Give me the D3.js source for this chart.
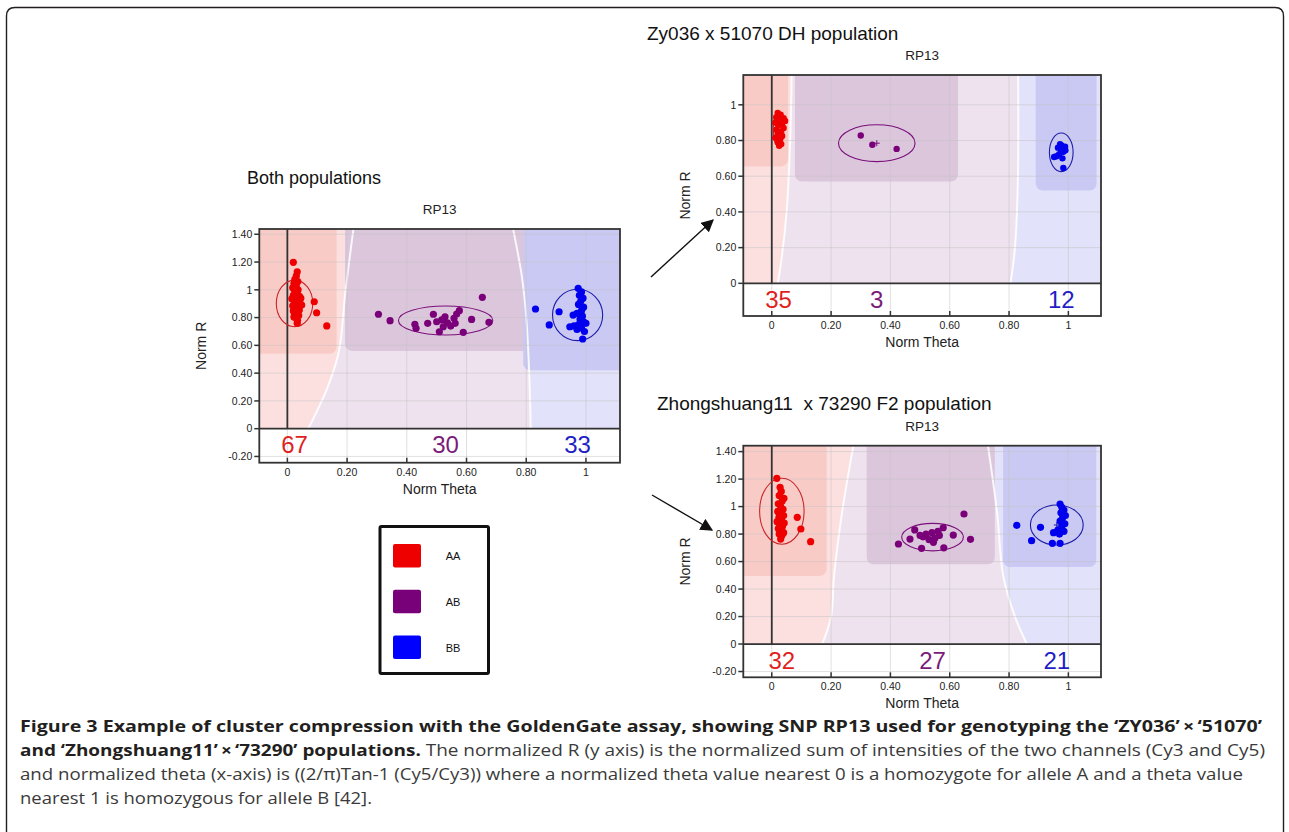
<!DOCTYPE html>
<html>
<head>
<meta charset="utf-8">
<script src="https://cdn.jsdelivr.net/npm/d3@7"></script>
<style>
  body { margin: 0; background: #fff; }
  text { font-family: "Liberation Sans", Arial, sans-serif; }
  .cap { font-family: "Open Sans", sans-serif; }
</style>
</head>
<body>
<svg id="fig"></svg>
<script>
// ---- data ----
var genotypes = ["AA", "AB", "BB"];

var xTicks = [0, 0.2, 0.4, 0.6, 0.8, 1];
var yTicksWide = [-0.2, 0, 0.2, 0.4, 0.6, 0.8, 1, 1.2, 1.4];
var yTicksDH = [0, 0.2, 0.4, 0.6, 0.8, 1];

// Both populations (theta, R)
var bothAA = [[0.020,1.198],[0.033,1.130],[0.030,1.100],[0.025,1.075],[0.035,1.060],[0.022,1.045],[0.030,1.030],
  [0.018,1.015],[0.036,1.000],[0.025,0.990],[0.032,0.975],[0.020,0.960],[0.040,0.955],[0.028,0.945],[0.015,0.935],
  [0.035,0.925],[0.024,0.915],[0.042,0.905],[0.030,0.895],[0.018,0.885],[0.036,0.875],[0.026,0.865],[0.040,0.855],
  [0.020,0.848],[0.032,0.838],[0.025,0.825],[0.038,0.815],[0.022,0.805],[0.030,0.795],[0.034,0.780],[0.033,0.760],
  [0.045,0.940],[0.048,0.890],[0.090,0.914],[0.098,0.835],[0.132,0.740]];
var bothAB = [[0.305,0.824],[0.344,0.778],[0.427,0.752],[0.431,0.723],[0.470,0.759],[0.489,0.824],[0.509,0.698],
  [0.517,0.783],[0.528,0.806],[0.536,0.763],[0.547,0.739],[0.558,0.795],[0.567,0.826],[0.576,0.850],[0.562,0.759],
  [0.589,0.694],[0.617,0.787],[0.653,0.946],[0.675,0.766],[0.500,0.770],[0.522,0.734]];
var bothBB = [[0.831,0.862],[0.877,0.747],[0.910,0.842],[0.974,1.011],[0.985,0.985],[0.978,0.960],[0.990,0.940],
  [0.982,0.915],[0.975,0.895],[0.992,0.875],[0.985,0.850],[0.970,0.830],[0.957,0.818],[0.988,0.810],[0.980,0.790],
  [0.992,0.770],[1.000,0.759],[0.975,0.750],[0.960,0.740],[0.946,0.734],[0.985,0.725],[0.970,0.715],[0.989,0.646],[0.995,0.700]];
var bothCounts = [67, 30, 33];
var bothEllipses = [[0.024,0.902,0.061,0.168],[0.530,0.779,0.158,0.104],[0.972,0.819,0.084,0.185]]; // cx, cy, rx, ry
var bothCores = [[-0.2,0.165,0.54],[0.193,0.813,0.56],[0.79,1.2,0.42]];   // theta from, theta to, R from
var bothEdgeA = [[0.225,1.5],[0.195,1.0],[0.172,0.55],[0.135,0.3],[0.07,0]];
var bothEdgeB = [[0.75,1.5],[0.785,1.1],[0.80,0.8],[0.81,0.4],[0.815,0]];

// Zy036 x 51070 DH population
var dhAA = [[0.020,0.955],[0.030,0.945],[0.015,0.930],[0.040,0.925],[0.025,0.915],[0.045,0.910],[0.012,0.900],
  [0.035,0.895],[0.022,0.885],[0.040,0.870],[0.015,0.860],[0.030,0.850],[0.020,0.835],[0.035,0.825],[0.012,0.815],
  [0.028,0.805],[0.020,0.790],[0.032,0.780],[0.025,0.770]];
var dhAB = [[0.300,0.828],[0.339,0.776],[0.421,0.753]];
var dhBB = [[0.977,0.773],[0.989,0.765],[0.972,0.780],[0.983,0.737],[0.969,0.724],[0.952,0.708],[0.960,0.712],
  [0.983,0.646],[0.975,0.750],[0.990,0.745],[0.965,0.760],[0.980,0.700]];
var dhCounts = [35, 3, 12];
var dhEllipses = [[0.023,0.864,0.018,0.098],[0.354,0.785,0.129,0.103],[0.976,0.734,0.040,0.108]];
var dhCores = [[-0.2,0.055,0.655],[0.078,0.628,0.57],[0.89,1.095,0.52]];
var dhEdgeA = [[0.068,1.3],[0.062,0.8],[0.05,0.4],[0.03,0.1],[0.02,0]];
var dhEdgeB = [[0.83,1.3],[0.83,0.6],[0.82,0.2],[0.805,0]];

// Zhongshuang11 x 73290 F2 population
var f2AA = [[0.017,1.206],[0.041,1.060],[0.086,0.922],[0.098,0.837],[0.131,0.745],[0.030,0.764],[0.028,1.140],
  [0.032,1.110],[0.025,1.080],[0.035,1.040],[0.022,1.020],[0.030,1.000],[0.038,0.980],[0.020,0.965],[0.028,0.950],
  [0.040,0.935],[0.024,0.920],[0.033,0.905],[0.018,0.890],[0.042,0.880],[0.027,0.870],[0.036,0.855],[0.022,0.840],
  [0.031,0.825],[0.040,0.810],[0.025,0.800],[0.034,0.790]];
var f2AB = [[0.427,0.728],[0.466,0.764],[0.482,0.830],[0.505,0.696],[0.510,0.780],[0.520,0.800],[0.530,0.760],
  [0.540,0.810],[0.550,0.770],[0.560,0.820],[0.565,0.790],[0.578,0.846],[0.580,0.700],[0.545,0.740],[0.500,0.790],
  [0.612,0.793],[0.648,0.946],[0.670,0.762]];
var f2BB = [[0.826,0.864],[0.876,0.752],[0.906,0.849],[0.972,1.019],[0.978,0.995],[0.985,0.975],[0.975,0.955],
  [0.990,0.935],[0.980,0.915],[0.972,0.895],[0.988,0.875],[0.978,0.855],[0.965,0.830],[0.950,0.810],[0.985,0.820],
  [0.970,0.800],[0.946,0.733],[0.972,0.733]];
var f2Counts = [32, 27, 21];
var f2Ellipses = [[0.034,0.966,0.075,0.240],[0.542,0.778,0.104,0.100],[0.961,0.866,0.089,0.146]];
var f2Cores = [[-0.2,0.185,0.495],[0.32,0.752,0.58],[0.78,1.094,0.56]];
var f2EdgeA = [[0.28,1.5],[0.24,1.0],[0.21,0.5],[0.2,0.2],[0.17,0]];
var f2EdgeB = [[0.725,1.5],[0.76,0.95],[0.78,0.5],[0.82,0.2],[0.86,0]];

var captionLines = [
  [[true, "Figure 3 Example of cluster compression with the GoldenGate assay, showing SNP RP13 used for genotyping the \u2018ZY036\u2019\u2009\u00d7\u2009\u201851070\u2019"]],
  [[true, "and \u2018Zhongshuang11\u2019\u2009\u00d7\u2009\u201873290\u2019 populations."], [false, " The normalized R (y axis) is the normalized sum of intensities of the two channels (Cy3 and Cy5)"]],
  [[false, "and normalized theta (x-axis) is ((2/\u03c0)Tan-1 (Cy5/Cy3)) where a normalized theta value nearest 0 is a homozygote for allele A and a theta value"]],
  [[false, "nearest 1 is homozygous for allele B [42]."]]
];

// ---- styles ----
var dotColor = { AA: "#ee0000", AB: "#7a007a", BB: "#0000ee" };
var ringColor = { AA: "#c8262a", AB: "#7a107a", BB: "#1c1ca8" };
var coreFill = { AA: "#f9cbc7", AB: "#dcc6dc", BB: "#c9c9f4" };
var softFill = { AA: "#fce0e0", AB: "#efe2ef", BB: "#e2e2fa" };

var W = 1289, H = 832;
var svg = d3.select("#fig").attr("width", W).attr("height", H);

// outer frame of the figure
svg.append("path")
  .attr("d", "M6.5,850 L6.5,16 Q6.5,7.5 15,7.5 L1275,7.5 Q1283.5,7.5 1283.5,16 L1283.5,850")
  .attr("fill", "none").attr("stroke", "#231f20").attr("stroke-width", 1.4);

var defs = svg.append("defs");
defs.append("marker").attr("id", "arr")
  .attr("viewBox", "0 0 10 10").attr("refX", 9).attr("refY", 5)
  .attr("markerWidth", 9).attr("markerHeight", 9).attr("orient", "auto")
  .append("path").attr("d", "M0,0 L10,5 L0,10 z").attr("fill", "#111");

var fmt = function(v) { return (v === 0 || v === 1) ? String(v) : v.toFixed(2); };

function drawPanel(id, box, xDom, yDom, yTicks, sets, counts, ellipses, cores, edgeA, edgeB, r) {
  var x = d3.scaleLinear().domain(xDom).range([box[0], box[1]]);
  var y = d3.scaleLinear().domain(yDom).range([box[3], box[2]]);
  var g = svg.append("g");

  defs.append("clipPath").attr("id", "clip" + id)
    .append("rect").attr("x", box[0]).attr("y", box[2])
    .attr("width", box[1] - box[0]).attr("height", box[3] - box[2]);
  var plot = g.append("g").attr("clip-path", "url(#clip" + id + ")");

  var xl = xDom[0] - 0.1, xr = xDom[1] + 0.1, yt = yDom[1] + 0.1;
  var curve = d3.line().x(function(d) { return x(d[0]); }).y(function(d) { return y(d[1]); })
    .curve(d3.curveCatmullRom);

  // soft zones split by the two boundary curves
  var edgeBUp = edgeB.slice().reverse();
  plot.append("path").attr("fill", softFill.AA)
    .attr("d", curve(edgeA) + "L" + x(xl) + "," + y(0) + "L" + x(xl) + "," + y(yt) + "L" + x(edgeA[0][0]) + "," + y(yt) + "Z");
  plot.append("path").attr("fill", softFill.AB)
    .attr("d", curve(edgeA) + "L" + x(edgeB[edgeB.length - 1][0]) + "," + y(0) + curve(edgeBUp).replace(/^M/, "L") + "Z");
  plot.append("path").attr("fill", softFill.BB)
    .attr("d", curve(edgeB) + "L" + x(xr) + "," + y(0) + "L" + x(xr) + "," + y(yt) + "Z");

  // cluster cores
  plot.selectAll(".core").data(cores).enter().append("rect")
    .attr("x", function(d) { return x(d[0]); })
    .attr("y", y(yt))
    .attr("width", function(d) { return x(d[1]) - x(d[0]); })
    .attr("height", function(d) { return y(d[2]) - y(yt); })
    .attr("rx", 7)
    .attr("fill", function(d, i) { return coreFill[genotypes[i]]; });

  // white boundary lines
  [edgeA, edgeB].forEach(function(e) {
    plot.append("path").attr("d", curve(e)).attr("fill", "none")
      .attr("stroke", "#fff").attr("stroke-width", 2).attr("opacity", 0.85);
  });

  // count strip under zero
  plot.append("rect").attr("x", box[0]).attr("y", y(0))
    .attr("width", box[1] - box[0]).attr("height", box[3] - y(0)).attr("fill", "#fff");

  // grid
  plot.selectAll(".gx").data(xTicks).enter().append("line")
    .attr("x1", function(d) { return x(d); }).attr("x2", function(d) { return x(d); })
    .attr("y1", box[2]).attr("y2", box[3])
    .attr("stroke", "#c4c4c4").attr("stroke-opacity", 0.5);
  plot.selectAll(".gy").data(yTicks).enter().append("line")
    .attr("y1", function(d) { return y(d); }).attr("y2", function(d) { return y(d); })
    .attr("x1", box[0]).attr("x2", box[1])
    .attr("stroke", "#c4c4c4").attr("stroke-opacity", 0.5);

  // zero axes
  plot.append("line").attr("x1", x(0)).attr("x2", x(0)).attr("y1", box[2]).attr("y2", y(0))
    .attr("stroke", "#333").attr("stroke-width", 1.8);
  plot.append("line").attr("x1", box[0]).attr("x2", box[1]).attr("y1", y(0)).attr("y2", y(0))
    .attr("stroke", "#333").attr("stroke-width", 1.8);

  // cluster ellipses
  plot.selectAll(".ell").data(ellipses).enter().append("ellipse")
    .attr("cx", function(d) { return x(d[0]); })
    .attr("cy", function(d) { return y(d[1]); })
    .attr("rx", function(d) { return x(d[2]) - x(0); })
    .attr("ry", function(d) { return y(0) - y(d[3]); })
    .attr("fill", "none").attr("stroke-width", 1.1)
    .attr("stroke", function(d, i) { return ringColor[genotypes[i]]; });
  plot.selectAll(".cen").data(ellipses).enter().append("path")
    .attr("d", function(d) { var cx = x(d[0]), cy = y(d[1]); return "M" + (cx - 3) + "," + cy + "h6M" + cx + "," + (cy - 3) + "v6"; })
    .attr("stroke", function(d, i) { return ringColor[genotypes[i]]; }).attr("stroke-width", 1);

  // samples
  sets.forEach(function(pts, i) {
    plot.selectAll(".p" + i).data(pts).enter().append("circle")
      .attr("cx", function(d) { return x(d[0]); })
      .attr("cy", function(d) { return y(d[1]); })
      .attr("r", r)
      .attr("fill", dotColor[genotypes[i]]);
  });

  // counts
  g.selectAll(".cnt").data(counts).enter().append("text")
    .attr("x", function(d, i) { return x(ellipses[i][0]); })
    .attr("y", y(0) + 24.5)
    .attr("text-anchor", "middle").attr("font-size", 24)
    .attr("fill", function(d, i) { return ["#e01f1f", "#7a1c7a", "#1f1fc4"][i]; })
    .text(function(d) { return d; });

  // frame
  g.append("rect").attr("x", box[0]).attr("y", box[2])
    .attr("width", box[1] - box[0]).attr("height", box[3] - box[2])
    .attr("fill", "none").attr("stroke", "#333").attr("stroke-width", 1.8);

  // y ticks
  var yt2 = g.selectAll(".yt").data(yTicks).enter().append("g");
  yt2.append("line").attr("x1", box[0] - 5).attr("x2", box[0])
    .attr("y1", function(d) { return y(d); }).attr("y2", function(d) { return y(d); })
    .attr("stroke", "#333").attr("stroke-width", 1.5);
  yt2.append("text").attr("x", box[0] - 7).attr("y", function(d) { return y(d) + 3.8; })
    .attr("text-anchor", "end").attr("font-size", 10.5).attr("fill", "#222")
    .text(fmt);

  // x ticks
  var xt2 = g.selectAll(".xt").data(xTicks).enter().append("g");
  xt2.append("line").attr("y1", box[3] - 5).attr("y2", box[3])
    .attr("x1", function(d) { return x(d); }).attr("x2", function(d) { return x(d); })
    .attr("stroke", "#333").attr("stroke-width", 1.5);
  xt2.append("text").attr("y", box[3] + 13).attr("x", function(d) { return x(d); })
    .attr("text-anchor", "middle").attr("font-size", 10.5).attr("fill", "#222")
    .text(fmt);

  var mid = (box[0] + box[1]) / 2;
  g.append("text").attr("x", mid).attr("y", box[3] + 31).attr("text-anchor", "middle")
    .attr("font-size", 14).attr("fill", "#222").text("Norm Theta");
  g.append("text").attr("transform", "translate(" + (box[0] - 53) + "," + ((box[2] + box[3]) / 2) + ") rotate(-90)")
    .attr("text-anchor", "middle").attr("font-size", 14).attr("fill", "#222").text("Norm R");
  g.append("text").attr("x", mid).attr("y", box[2] - 15).attr("text-anchor", "middle")
    .attr("font-size", 13.5).attr("fill", "#222").text("RP13");
}

drawPanel("both", [259.3, 620, 229, 462.7], [-0.094, 1.114], [-0.245, 1.438], yTicksWide,
  [bothAA, bothAB, bothBB], bothCounts, bothEllipses, bothCores, bothEdgeA, bothEdgeB, 3.6);
drawPanel("dh", [743.3, 1101, 75, 316], [-0.096, 1.11], [-0.183, 1.167], yTicksDH,
  [dhAA, dhAB, dhBB], dhCounts, dhEllipses, dhCores, dhEdgeA, dhEdgeB, 3.2);
drawPanel("f2", [743.3, 1101, 445.7, 677.3], [-0.096, 1.11], [-0.242, 1.443], yTicksWide,
  [f2AA, f2AB, f2BB], f2Counts, f2Ellipses, f2Cores, f2EdgeA, f2EdgeB, 3.6);

// panel titles
svg.append("text").attr("x", 247).attr("y", 184).attr("font-size", 18).attr("fill", "#111").text("Both populations");
svg.append("text").attr("x", 647).attr("y", 40).attr("font-size", 19).attr("fill", "#111").text("Zy036 x 51070 DH population");
svg.append("text").attr("x", 657).attr("y", 410).attr("font-size", 19).attr("fill", "#111")
  .style("white-space", "pre").text("Zhongshuang11  x 73290 F2 population");

// arrows
svg.append("line").attr("x1", 651).attr("y1", 277).attr("x2", 713).attr("y2", 220)
  .attr("stroke", "#111").attr("stroke-width", 1.4).attr("marker-end", "url(#arr)");
svg.append("line").attr("x1", 652).attr("y1", 495).attr("x2", 712).attr("y2", 530)
  .attr("stroke", "#111").attr("stroke-width", 1.4).attr("marker-end", "url(#arr)");

// legend
var lg = svg.append("g");
lg.append("rect").attr("x", 380).attr("y", 526.5).attr("width", 108.5).attr("height", 147)
  .attr("fill", "#fff").attr("stroke", "#111").attr("stroke-width", 3).attr("rx", 1.5);
var li = lg.selectAll(".li").data(genotypes).enter().append("g")
  .attr("transform", function(d, i) { return "translate(393," + (544 + i * 45.8) + ")"; });
li.append("rect").attr("width", 28).attr("height", 23.5).attr("rx", 2)
  .attr("fill", function(d) { return d === "AA" ? "#ee0000" : d === "AB" ? "#780078" : "#0000ff"; });
li.append("text").attr("x", 60).attr("y", 16).attr("text-anchor", "middle")
  .attr("font-size", 11).attr("fill", "#111").text(function(d) { return d; });

// caption
var capEnds = [1262, 1265, 1243, 372];
var cap = svg.append("g").attr("class", "cap");
captionLines.forEach(function(line, i) {
  var t = cap.append("text").attr("class", "cap").attr("x", 20).attr("y", 732 + i * 24)
    .attr("font-size", 16).attr("textLength", capEnds[i] - 20).attr("lengthAdjust", "spacingAndGlyphs")
    .style("white-space", "pre");
  line.forEach(function(seg) {
    t.append("tspan").attr("font-weight", seg[0] ? 700 : 400)
      .attr("fill", seg[0] ? "#231f20" : "#3a3a3a").text(seg[1]);
  });
});
</script>
</body>
</html>
